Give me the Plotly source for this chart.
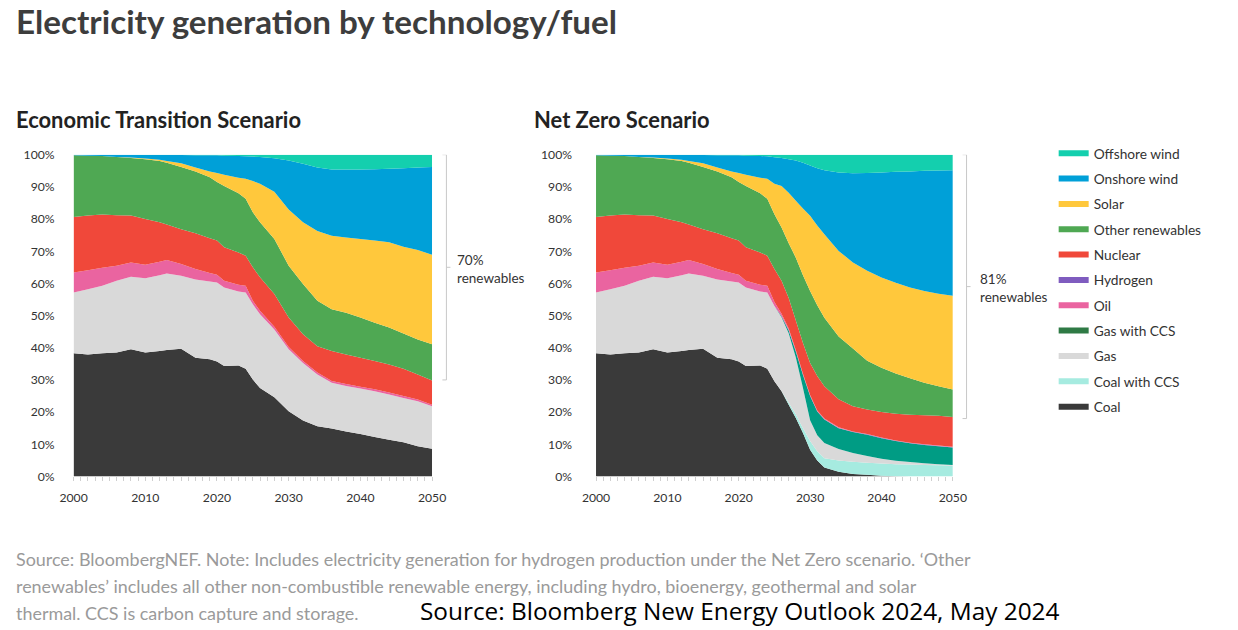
import plotly.graph_objects as go

# ---------------- data (share of generation, %) ----------------
years_et = [2000, 2002, 2004, 2006, 2008, 2010, 2012, 2013, 2015, 2017, 2019, 2020, 2021, 2023,
            2024, 2025, 2026, 2028, 2030, 2032, 2034, 2036, 2038, 2040, 2042, 2044, 2046, 2048, 2050]

coal_et = [38.3, 37.9, 38.3, 38.5, 39.5, 38.5, 39.0, 39.3, 39.7, 36.9, 36.4, 35.7, 34.3, 34.5,
           33.5, 30.1, 27.5, 24.6, 20.3, 17.4, 15.6, 14.9, 14.0, 13.2, 12.3, 11.4, 10.6, 9.4, 8.6]
gas_et = [18.9, 20.3, 21.0, 22.3, 22.6, 23.1, 23.5, 23.8, 22.7, 24.3, 24.2, 24.6, 24.4, 23.0,
          23.7, 23.4, 22.9, 21.1, 19.2, 17.9, 16.1, 14.2, 14.1, 14.1, 14.2, 14.1, 13.8, 14.0, 13.2]
oil_et = [6.2, 5.9, 5.6, 4.7, 4.4, 4.2, 4.2, 4.2, 3.6, 3.3, 2.6, 2.4, 2.1, 2.1,
          2.1, 1.1, 1.1, 0.8, 0.7, 0.6, 0.6, 0.6, 0.6, 0.6, 0.6, 0.6, 0.6, 0.5, 0.5]
nuclear_et = [17.2, 17.0, 16.5, 15.7, 14.6, 14.2, 12.3, 11.0, 10.8, 11.1, 10.8, 10.6, 10.4, 10.0,
              9.3, 10.4, 10.4, 10.2, 9.2, 8.3, 8.2, 9.3, 9.2, 9.0, 8.8, 8.7, 8.5, 7.8, 7.5]
other_et = [19.2, 18.6, 18.2, 18.1, 17.9, 18.6, 19.0, 19.2, 19.4, 19.2, 19.0, 18.2, 19.1, 18.4,
            17.7, 17.1, 17.1, 17.1, 16.1, 15.6, 14.1, 13.0, 13.0, 12.5, 11.9, 11.5, 10.9, 10.9, 11.3]
solar_et = [0.0, 0.0, 0.0, 0.0, 0.1, 0.2, 0.4, 0.5, 1.1, 1.2, 1.8, 2.8, 3.5, 4.8,
            6.2, 9.7, 12.0, 14.7, 17.5, 19.2, 21.7, 22.8, 23.4, 24.4, 25.5, 26.5, 27.0, 27.8, 27.8]
onshore_et = [0.2, 0.3, 0.4, 0.7, 0.9, 1.1, 1.5, 1.9, 2.6, 3.8, 5.0, 5.5, 5.9, 6.8,
              7.0, 7.6, 8.3, 10.4, 15.2, 18.2, 19.7, 20.6, 21.1, 21.6, 22.2, 22.8, 24.4, 25.6, 27.3]
offshore_et = [0.0, 0.0, 0.0, 0.0, 0.0, 0.1, 0.1, 0.1, 0.1, 0.2, 0.2, 0.2, 0.3, 0.4,
               0.5, 0.6, 0.7, 1.1, 1.8, 2.8, 4.0, 4.6, 4.6, 4.6, 4.5, 4.4, 4.2, 4.0, 3.8]

years_nz = [2000, 2002, 2004, 2006, 2008, 2010, 2012, 2013, 2015, 2017, 2019, 2020, 2021, 2023,
            2024, 2025, 2026, 2027, 2028, 2029, 2030, 2031, 2032, 2034, 2036, 2038, 2040, 2042,
            2044, 2046, 2048, 2050]

coal_nz = [38.3, 37.9, 38.3, 38.5, 39.5, 38.5, 39.0, 39.3, 39.7, 36.9, 36.4, 35.7, 34.3, 34.5,
           33.5, 29.6, 26.5, 22.3, 18.2, 13.5, 8.3, 5.0, 2.8, 1.5, 0.8, 0.5, 0.2, 0.1, 0.0, 0.0, 0.0, 0.0]
coal_ccs_nz = [0, 0, 0, 0, 0, 0, 0, 0, 0, 0, 0, 0, 0, 0,
               0.0, 0.0, 0.1, 0.6, 1.1, 1.5, 2.7, 2.8, 2.9, 3.5, 3.8, 3.8, 3.8, 3.7, 3.7, 3.6, 3.5, 3.3]
gas_nz = [18.9, 20.3, 21.0, 22.3, 22.6, 23.1, 23.5, 23.8, 22.7, 24.3, 24.2, 24.6, 24.4, 23.0,
          23.7, 23.4, 22.9, 21.6, 17.7, 12.5, 6.5, 5.0, 4.7, 3.5, 2.7, 2.1, 1.5, 1.1, 0.8, 0.5, 0.3, 0.3]
gas_ccs_nz = [0, 0, 0, 0, 0, 0, 0, 0, 0, 0, 0, 0, 0, 0,
              0.0, 0.0, 0.3, 0.9, 1.8, 4.0, 7.5, 7.4, 7.3, 6.5, 6.5, 6.6, 6.4, 6.1, 5.8, 5.7, 5.6, 5.4]
hydrogen_nz = [0, 0, 0, 0, 0, 0, 0, 0, 0, 0, 0, 0, 0, 0,
               0.0, 0.0, 0.0, 0.1, 0.1, 0.1, 0.1, 0.1, 0.1, 0.1, 0.1, 0.1, 0.1, 0.1, 0.1, 0.1, 0.1, 0.1]
oil_nz = [6.2, 5.9, 5.6, 4.7, 4.4, 4.2, 4.2, 4.2, 3.6, 3.3, 2.6, 2.4, 2.1, 2.1,
          2.1, 1.2, 0.8, 0.5, 0.4, 0.3, 0.2, 0.2, 0.2, 0.2, 0.1, 0.1, 0.1, 0.1, 0.1, 0.1, 0.1, 0.1]
nuclear_nz = [17.2, 17.0, 16.5, 15.7, 14.6, 14.2, 12.3, 11.0, 10.8, 11.1, 10.8, 10.6, 10.4, 10.0,
              9.3, 10.3, 10.2, 9.5, 9.2, 9.6, 10.0, 10.7, 10.0, 8.7, 7.8, 7.6, 7.9, 8.3, 8.7, 9.0, 9.3, 9.3]
other_nz = [19.2, 18.6, 18.2, 18.1, 17.9, 18.6, 19.0, 19.2, 19.4, 19.2, 19.0, 18.2, 19.1, 18.4,
            17.7, 17.0, 16.6, 17.0, 19.5, 21.0, 22.3, 22.0, 21.3, 19.5, 18.0, 15.2, 13.8, 12.5, 11.3, 10.1, 9.1, 8.5]
solar_nz = [0.0, 0.0, 0.0, 0.0, 0.1, 0.2, 0.4, 0.5, 1.1, 1.2, 1.8, 2.8, 3.5, 4.8,
            6.2, 9.5, 12.9, 15.7, 17.7, 20.8, 23.4, 24.8, 26.0, 26.6, 26.7, 27.9, 28.0, 28.2, 28.2, 28.5, 28.8, 29.2]
onshore_nz = [0.2, 0.3, 0.4, 0.7, 0.9, 1.1, 1.5, 1.9, 2.6, 3.8, 5.0, 5.5, 5.9, 6.8,
              7.0, 8.2, 8.7, 10.4, 12.5, 14.2, 15.6, 17.8, 19.9, 24.4, 27.7, 30.4, 32.7, 34.5, 36.1, 37.4, 38.3, 39.0]
offshore_nz = [0.0, 0.0, 0.0, 0.0, 0.0, 0.1, 0.1, 0.1, 0.1, 0.2, 0.2, 0.2, 0.3, 0.4,
               0.5, 0.8, 1.0, 1.4, 1.8, 2.5, 3.4, 4.2, 4.8, 5.5, 5.8, 5.7, 5.5, 5.3, 5.2, 5.0, 4.9, 4.8]

renewables_2050_et = "70%"
renewables_2050_nz = "81%"
bracket_base_et = 30
bracket_base_nz = 18

y_ticks = [0, 10, 20, 30, 40, 50, 60, 70, 80, 90, 100]
y_ticktext = ["0%", "10%", "20%", "30%", "40%", "50%", "60%", "70%", "80%", "90%", "100%"]
x_ticks = [2000, 2010, 2020, 2030, 2040, 2050]

legend_names = ["Offshore wind", "Onshore wind", "Solar", "Other renewables", "Nuclear", "Hydrogen",
                "Oil", "Gas with CCS", "Gas", "Coal with CCS", "Coal"]
legend_colors = ["#14cfae", "#00a0d8", "#ffc83c", "#4fa853", "#f0483a", "#7f5cbf",
                 "#ea64a0", "#2f7a45", "#d9d9d9", "#a6ebe0", "#3a3a3a"]

COL = {
    "Coal": "#3a3a3a", "Coal with CCS": "#a6ebe0", "Gas": "#d9d9d9", "Gas with CCS": "#009c84",
    "Hydrogen": "#7f5cbf", "Oil": "#ea64a0", "Nuclear": "#f0483a", "Other renewables": "#4fa853",
    "Solar": "#ffc83c", "Onshore wind": "#00a0d8", "Offshore wind": "#14cfae",
}

et_series = [("Coal", coal_et), ("Gas", gas_et), ("Oil", oil_et), ("Nuclear", nuclear_et),
             ("Other renewables", other_et), ("Solar", solar_et), ("Onshore wind", onshore_et),
             ("Offshore wind", offshore_et)]
nz_series = [("Coal", coal_nz), ("Coal with CCS", coal_ccs_nz), ("Gas", gas_nz),
             ("Gas with CCS", gas_ccs_nz), ("Hydrogen", hydrogen_nz), ("Oil", oil_nz),
             ("Nuclear", nuclear_nz), ("Other renewables", other_nz), ("Solar", solar_nz),
             ("Onshore wind", onshore_nz), ("Offshore wind", offshore_nz)]

# ---------------- layout helpers (page pixels -> paper fractions) ----------------
W, H = 1238, 630
SX, SY, OX, OY = 0.976, 0.975, 14.8, 7.8   # photo framing of the page

def px(x):
    return max(0.0, (x - OX) / SX) / W

def py(y):
    return 1 - ((y - OY) / SY) / H

def fs(s):
    return s / SX

fig = go.Figure()
for name, vals in et_series:
    fig.add_trace(go.Scatter(x=years_et, y=vals, stackgroup="et", mode="none",
                             fillcolor=COL[name], line=dict(width=0), name=name,
                             showlegend=False, xaxis="x", yaxis="y"))
for name, vals in nz_series:
    fig.add_trace(go.Scatter(x=years_nz, y=vals, stackgroup="nz", mode="none",
                             fillcolor=COL[name], line=dict(width=0), name=name,
                             showlegend=False, xaxis="x2", yaxis="y2"))
for i, (name, col) in enumerate(zip(legend_names, legend_colors)):
    fig.add_trace(go.Scatter(x=[None], y=[None], mode="none", fill="toself", fillcolor=col,
                             line=dict(width=0, color=col), name=name, legendgroup=f"g{i}",
                             showlegend=True, xaxis="x", yaxis="y"))

ydom = [py(475.7), py(154.3)]
xaxis_common = dict(range=[2000, 2050], tickvals=x_ticks,
                    ticks="outside", ticklen=4, tickcolor="#cfcfcf", showgrid=False,
                    zeroline=False, showline=False, ticklabelstandoff=6,
                    tickfont=dict(size=12.2, color="#333"),
                    minor=dict(dtick=1, ticks="outside", ticklen=4, tickcolor="#cfcfcf"))
yaxis_common = dict(range=[0, 100], tickvals=y_ticks, ticktext=y_ticktext,
                    showgrid=False, zeroline=False, showline=False, ticks="",
                    tickfont=dict(size=12.2, color="#333"), domain=ydom)

fig.update_layout(
    width=W, height=H, autosize=False,
    margin=dict(l=0, r=0, t=0, b=0, pad=0),
    paper_bgcolor="white", plot_bgcolor="white",
    font=dict(family="Lato, 'Noto Sans', sans-serif", color="#333"),
    xaxis=dict(domain=[px(74.3), px(432.3)], anchor="y", **xaxis_common),
    yaxis=dict(anchor="x", ticklabelstandoff=18, **yaxis_common),
    xaxis2=dict(domain=[px(596), px(952.3)], anchor="y2", **xaxis_common),
    yaxis2=dict(anchor="x2", ticklabelstandoff=23, **yaxis_common),
    legend=dict(x=px(1053), y=py(137.4), xanchor="left", yanchor="top",
                font=dict(size=fs(13.4), color="#333"), tracegroupgap=4.5,
                bgcolor="rgba(0,0,0,0)", itemclick=False, itemdoubleclick=False),
    showlegend=True,
)

ann = []
def note(text, x, y, size, color, **kw):
    ann.append(dict(text=text, x=px(x), y=py(y), xref="paper", yref="paper",
                    xanchor="left", yanchor="middle", align="left", showarrow=False,
                    font=dict(size=fs(size), color=color, **kw)))

note("<b>Electricity generation by technology/fuel</b>", 12, 21, 32.4, "#3d3d3d", weight=900)
note("<b>Economic Transition Scenario</b>", 13, 119, 21.4, "#222")
note("<b>Net Zero Scenario</b>", 532, 119, 21.4, "#222")
note(f"{renewables_2050_et}<br>renewables", 455, 268.4, 13.2, "#333")
note(f"{renewables_2050_nz}<br>renewables", 977, 287.5, 13.2, "#333")
foot = ["Source: BloombergNEF. Note: Includes electricity generation for hydrogen production under the Net Zero scenario. \u2018Other",
        "renewables\u2019 includes all other non-combustible renewable energy, including hydro, bioenergy, geothermal and solar",
        "thermal. CCS is carbon capture and storage."]
for i, t in enumerate(foot):
    note(t, 12, 558 + 27 * i, 17.5, "#9a9a9a")
note("Source: Bloomberg New Energy Outlook 2024, May 2024", 418, 609.5, 23.8, "#000",
     family="'Open Sans', sans-serif")
fig.update_layout(annotations=ann)

# renewables brackets (top at 100%, bottom at the 2050 nuclear/renewables boundary)
shapes = []
for xline, yref, ybot in [(446.6, "y", bracket_base_et), (966, "y2", bracket_base_nz)]:
    xl = px(xline)
    line = dict(color="#c8c8c8", width=1)
    shapes.append(dict(type="line", xref="paper", yref=yref, x0=xl, x1=xl, y0=100, y1=ybot, line=line))
    shapes.append(dict(type="line", xref="paper", yref=yref, x0=px(xline - 4), x1=xl, y0=100, y1=100, line=line))
    shapes.append(dict(type="line", xref="paper", yref=yref, x0=px(xline - 4), x1=xl, y0=ybot, y1=ybot, line=line))
    mid = (100 + ybot) / 2
    shapes.append(dict(type="line", xref="paper", yref=yref, x0=xl, x1=px(xline + 4), y0=mid, y1=mid, line=line))
fig.update_layout(shapes=shapes)

fig.write_html("out.html",
               config={"displayModeBar": False},
               post_script="document.documentElement.style.margin='0';"
                           "document.body.style.margin='0';document.body.style.overflow='hidden';")
